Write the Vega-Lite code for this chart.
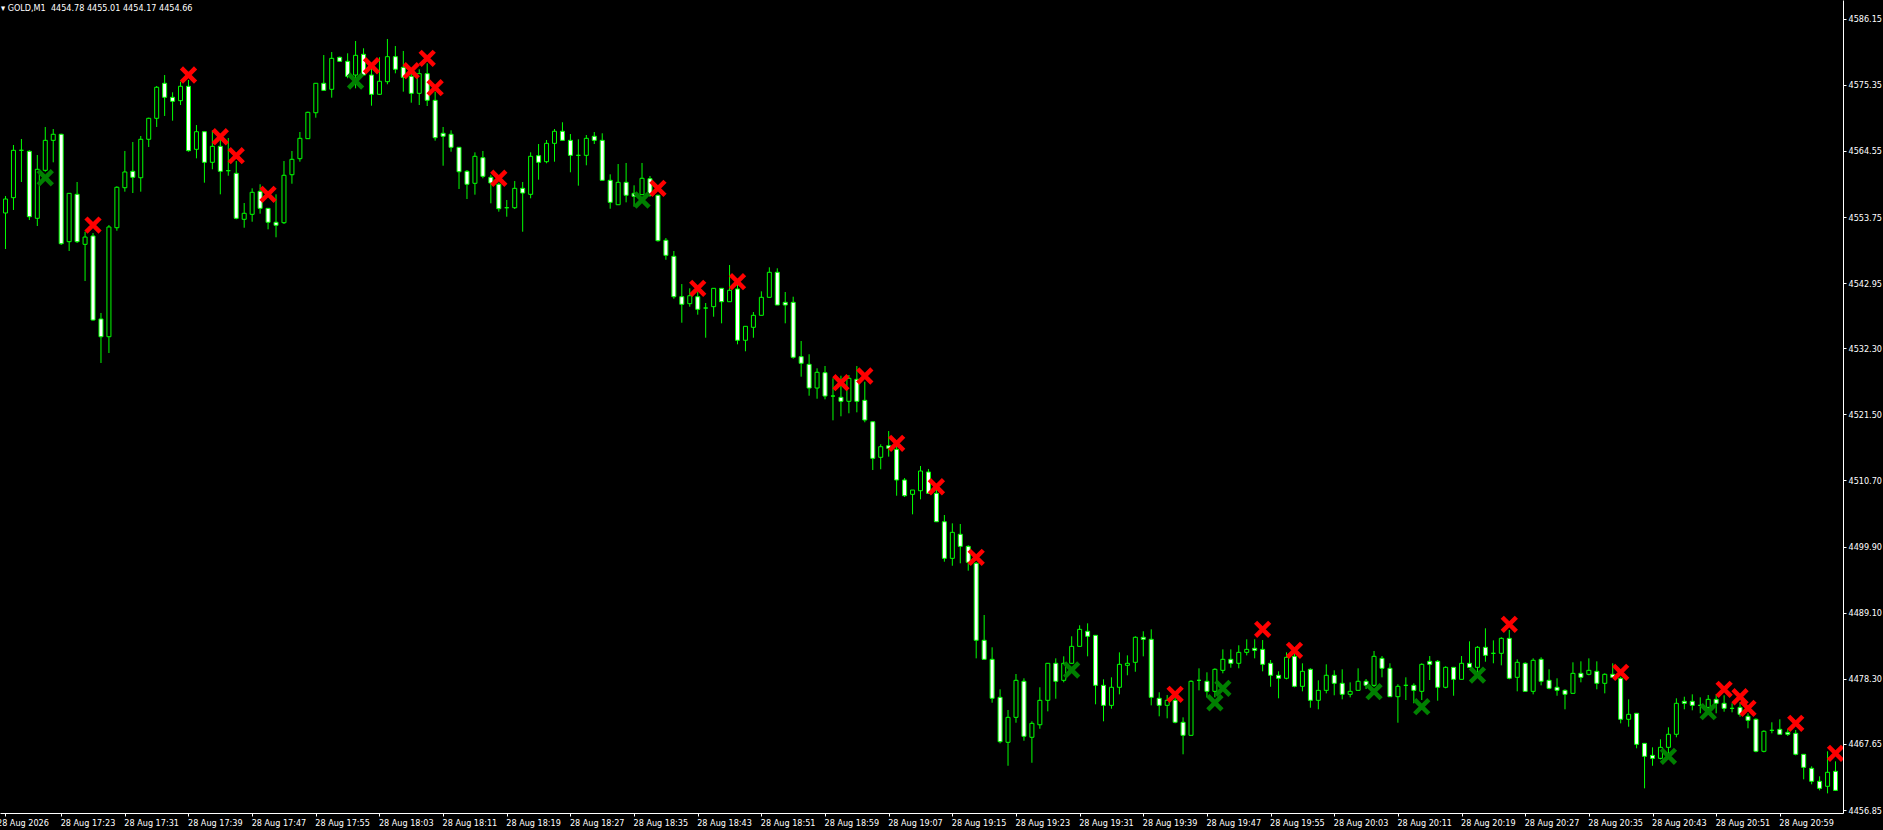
{
"$schema":"https://vega.github.io/schema/vega-lite/v6.json",
"autosize":{"type":"none"},
"width":1843,"height":813,
"padding":{"left":0,"top":0,"right":40,"bottom":17},
"background":"#000000",
"title":{"text":"\u25be GOLD,M1\u00a0 4454.78 4455.01 4454.17 4454.66","anchor":"start","frame":"group","offset":0,"baseline":"alphabetic","dy":20,"dx":1,"font":"DejaVu Sans Condensed, Liberation Sans","fontSize":9,"fontWeight":"normal","color":"#FFFFFF"},
"config":{"view":{"stroke":null,"fill":"#000000"},"axis":{"grid":false}},
"datasets":{
"candles":[
{"t":"2026-08-28T17:16","o":4554.41,"h":4557.18,"l":4548.52,"c":4556.69},
{"t":"2026-08-28T17:17","o":4556.91,"h":4565.52,"l":4554.90,"c":4564.65},
{"t":"2026-08-28T17:18","o":4564.65,"h":4566.50,"l":4559.47,"c":4564.65},
{"t":"2026-08-28T17:19","o":4564.49,"h":4564.65,"l":4553.26,"c":4553.80},
{"t":"2026-08-28T17:20","o":4553.54,"h":4563.88,"l":4552.28,"c":4561.55},
{"t":"2026-08-28T17:21","o":4561.38,"h":4568.46,"l":4561.15,"c":4566.28},
{"t":"2026-08-28T17:22","o":4566.28,"h":4568.13,"l":4562.69,"c":4567.27},
{"t":"2026-08-28T17:23","o":4567.27,"h":4567.36,"l":4549.18,"c":4549.39},
{"t":"2026-08-28T17:24","o":4549.72,"h":4557.67,"l":4548.20,"c":4557.62},
{"t":"2026-08-28T17:25","o":4557.46,"h":4559.47,"l":4549.50,"c":4549.72},
{"t":"2026-08-28T17:26","o":4549.29,"h":4551.35,"l":4543.29,"c":4550.48},
{"t":"2026-08-28T17:27","o":4550.65,"h":4551.14,"l":4536.81,"c":4536.92},
{"t":"2026-08-28T17:28","o":4537.09,"h":4538.07,"l":4529.90,"c":4534.19},
{"t":"2026-08-28T17:29","o":4534.19,"h":4552.44,"l":4531.53,"c":4552.12},
{"t":"2026-08-28T17:30","o":4552.00,"h":4558.77,"l":4551.51,"c":4558.61},
{"t":"2026-08-28T17:31","o":4558.54,"h":4564.54,"l":4557.89,"c":4561.11},
{"t":"2026-08-28T17:32","o":4561.22,"h":4566.01,"l":4557.67,"c":4560.24},
{"t":"2026-08-28T17:33","o":4560.17,"h":4566.99,"l":4557.89,"c":4566.45},
{"t":"2026-08-28T17:34","o":4566.45,"h":4569.98,"l":4565.19,"c":4569.88},
{"t":"2026-08-28T17:35","o":4569.88,"h":4575.16,"l":4568.46,"c":4574.95},
{"t":"2026-08-28T17:36","o":4575.60,"h":4576.95,"l":4570.26,"c":4573.31},
{"t":"2026-08-28T17:37","o":4573.31,"h":4574.13,"l":4569.49,"c":4572.66},
{"t":"2026-08-28T17:38","o":4572.76,"h":4575.86,"l":4572.05,"c":4575.11},
{"t":"2026-08-28T17:39","o":4575.11,"h":4576.14,"l":4564.42,"c":4564.59},
{"t":"2026-08-28T17:40","o":4564.81,"h":4568.78,"l":4563.34,"c":4567.69},
{"t":"2026-08-28T17:41","o":4567.69,"h":4567.69,"l":4559.36,"c":4562.69},
{"t":"2026-08-28T17:42","o":4562.69,"h":4567.92,"l":4561.55,"c":4565.30},
{"t":"2026-08-28T17:43","o":4565.30,"h":4566.61,"l":4557.46,"c":4561.22},
{"t":"2026-08-28T17:44","o":4561.32,"h":4566.66,"l":4560.50,"c":4561.32},
{"t":"2026-08-28T17:45","o":4560.89,"h":4562.90,"l":4553.38,"c":4553.54},
{"t":"2026-08-28T17:46","o":4553.38,"h":4556.04,"l":4552.00,"c":4554.36},
{"t":"2026-08-28T17:47","o":4554.19,"h":4558.44,"l":4552.98,"c":4557.79},
{"t":"2026-08-28T17:48","o":4557.95,"h":4559.10,"l":4554.29,"c":4555.17},
{"t":"2026-08-28T17:49","o":4555.17,"h":4555.17,"l":4551.74,"c":4552.89},
{"t":"2026-08-28T17:50","o":4552.89,"h":4557.46,"l":4550.44,"c":4552.40},
{"t":"2026-08-28T17:51","o":4552.82,"h":4562.90,"l":4552.61,"c":4560.57},
{"t":"2026-08-28T17:52","o":4560.66,"h":4564.54,"l":4559.19,"c":4563.18},
{"t":"2026-08-28T17:53","o":4563.28,"h":4567.64,"l":4562.79,"c":4566.61},
{"t":"2026-08-28T17:54","o":4566.55,"h":4570.96,"l":4566.55,"c":4570.86},
{"t":"2026-08-28T17:55","o":4570.79,"h":4575.60,"l":4569.98,"c":4575.60},
{"t":"2026-08-28T17:56","o":4575.60,"h":4580.22,"l":4574.45,"c":4574.45},
{"t":"2026-08-28T17:57","o":4574.62,"h":4580.71,"l":4573.25,"c":4579.68},
{"t":"2026-08-28T17:58","o":4579.85,"h":4579.95,"l":4579.13,"c":4579.19},
{"t":"2026-08-28T17:59","o":4579.19,"h":4580.50,"l":4576.42,"c":4576.74},
{"t":"2026-08-28T18:00","o":4576.95,"h":4582.51,"l":4574.78,"c":4580.17},
{"t":"2026-08-28T18:01","o":4580.34,"h":4581.32,"l":4576.95,"c":4576.95},
{"t":"2026-08-28T18:02","o":4576.95,"h":4578.05,"l":4571.94,"c":4573.80},
{"t":"2026-08-28T18:03","o":4573.80,"h":4579.85,"l":4573.69,"c":4575.93},
{"t":"2026-08-28T18:04","o":4575.86,"h":4582.84,"l":4575.44,"c":4579.95},
{"t":"2026-08-28T18:05","o":4579.95,"h":4581.69,"l":4577.23,"c":4577.89},
{"t":"2026-08-28T18:06","o":4578.21,"h":4580.88,"l":4574.23,"c":4576.58},
{"t":"2026-08-28T18:07","o":4576.74,"h":4577.77,"l":4572.43,"c":4573.96},
{"t":"2026-08-28T18:08","o":4573.96,"h":4577.89,"l":4572.05,"c":4577.17},
{"t":"2026-08-28T18:09","o":4577.17,"h":4578.87,"l":4571.89,"c":4572.82},
{"t":"2026-08-28T18:10","o":4572.82,"h":4574.23,"l":4566.22,"c":4566.71},
{"t":"2026-08-28T18:11","o":4567.43,"h":4568.46,"l":4562.13,"c":4566.94},
{"t":"2026-08-28T18:12","o":4567.27,"h":4567.92,"l":4564.42,"c":4565.14},
{"t":"2026-08-28T18:13","o":4565.14,"h":4565.14,"l":4558.33,"c":4561.15},
{"t":"2026-08-28T18:14","o":4561.22,"h":4561.43,"l":4556.69,"c":4559.10},
{"t":"2026-08-28T18:15","o":4559.26,"h":4564.32,"l":4557.40,"c":4563.67},
{"t":"2026-08-28T18:16","o":4563.44,"h":4564.54,"l":4560.08,"c":4560.40},
{"t":"2026-08-28T18:17","o":4560.24,"h":4560.66,"l":4555.99,"c":4559.31},
{"t":"2026-08-28T18:18","o":4559.10,"h":4559.36,"l":4554.62,"c":4555.11},
{"t":"2026-08-28T18:19","o":4555.27,"h":4556.53,"l":4553.80,"c":4555.27},
{"t":"2026-08-28T18:20","o":4555.27,"h":4559.63,"l":4555.06,"c":4558.44},
{"t":"2026-08-28T18:21","o":4558.44,"h":4559.47,"l":4551.35,"c":4557.67},
{"t":"2026-08-28T18:22","o":4557.46,"h":4564.32,"l":4556.81,"c":4563.67},
{"t":"2026-08-28T18:23","o":4563.77,"h":4565.68,"l":4559.85,"c":4562.69},
{"t":"2026-08-28T18:24","o":4562.79,"h":4566.33,"l":4562.53,"c":4565.79},
{"t":"2026-08-28T18:25","o":4565.79,"h":4568.13,"l":4562.79,"c":4567.76},
{"t":"2026-08-28T18:26","o":4567.76,"h":4569.23,"l":4566.28,"c":4566.28},
{"t":"2026-08-28T18:27","o":4566.28,"h":4567.31,"l":4561.06,"c":4563.83},
{"t":"2026-08-28T18:28","o":4563.83,"h":4566.45,"l":4558.87,"c":4563.83},
{"t":"2026-08-28T18:29","o":4563.83,"h":4567.15,"l":4562.20,"c":4566.61},
{"t":"2026-08-28T18:30","o":4566.94,"h":4567.64,"l":4565.68,"c":4566.28},
{"t":"2026-08-28T18:31","o":4566.28,"h":4567.43,"l":4559.75,"c":4559.75},
{"t":"2026-08-28T18:32","o":4559.75,"h":4560.73,"l":4555.11,"c":4556.15},
{"t":"2026-08-28T18:33","o":4555.76,"h":4562.41,"l":4555.76,"c":4559.42},
{"t":"2026-08-28T18:34","o":4559.42,"h":4562.58,"l":4556.15,"c":4557.30},
{"t":"2026-08-28T18:35","o":4557.62,"h":4558.93,"l":4555.44,"c":4557.13},
{"t":"2026-08-28T18:36","o":4557.40,"h":4562.58,"l":4557.40,"c":4560.08},
{"t":"2026-08-28T18:37","o":4560.01,"h":4560.45,"l":4557.07,"c":4557.30},
{"t":"2026-08-28T18:38","o":4557.30,"h":4557.40,"l":4549.72,"c":4549.88},
{"t":"2026-08-28T18:39","o":4549.95,"h":4550.32,"l":4546.77,"c":4547.49},
{"t":"2026-08-28T18:40","o":4547.33,"h":4548.20,"l":4540.40,"c":4540.73},
{"t":"2026-08-28T18:41","o":4540.73,"h":4542.80,"l":4536.48,"c":4539.49},
{"t":"2026-08-28T18:42","o":4539.59,"h":4542.10,"l":4539.10,"c":4540.89},
{"t":"2026-08-28T18:43","o":4540.73,"h":4541.55,"l":4537.79,"c":4538.67},
{"t":"2026-08-28T18:44","o":4538.88,"h":4539.70,"l":4534.03,"c":4538.88},
{"t":"2026-08-28T18:45","o":4539.10,"h":4542.10,"l":4537.46,"c":4542.10},
{"t":"2026-08-28T18:46","o":4542.10,"h":4542.10,"l":4536.38,"c":4539.91},
{"t":"2026-08-28T18:47","o":4539.91,"h":4545.91,"l":4539.91,"c":4541.78},
{"t":"2026-08-28T18:48","o":4541.99,"h":4543.46,"l":4532.95,"c":4533.61},
{"t":"2026-08-28T18:49","o":4533.61,"h":4535.89,"l":4531.81,"c":4535.89},
{"t":"2026-08-28T18:50","o":4535.73,"h":4538.23,"l":4534.03,"c":4537.69},
{"t":"2026-08-28T18:51","o":4537.69,"h":4541.61,"l":4537.69,"c":4540.63},
{"t":"2026-08-28T18:52","o":4540.63,"h":4545.53,"l":4540.63,"c":4544.72},
{"t":"2026-08-28T18:53","o":4544.72,"h":4545.37,"l":4539.37,"c":4539.37},
{"t":"2026-08-28T18:54","o":4539.81,"h":4541.50,"l":4536.38,"c":4539.37},
{"t":"2026-08-28T18:55","o":4539.81,"h":4540.73,"l":4530.60,"c":4530.83},
{"t":"2026-08-28T18:56","o":4530.93,"h":4533.49,"l":4527.66,"c":4529.85},
{"t":"2026-08-28T18:57","o":4529.68,"h":4531.32,"l":4524.55,"c":4525.81},
{"t":"2026-08-28T18:58","o":4525.81,"h":4529.03,"l":4524.06,"c":4528.38},
{"t":"2026-08-28T18:59","o":4528.31,"h":4529.41,"l":4523.96,"c":4524.50},
{"t":"2026-08-28T19:00","o":4524.50,"h":4527.40,"l":4520.53,"c":4524.50},
{"t":"2026-08-28T19:01","o":4524.29,"h":4527.82,"l":4521.19,"c":4523.64},
{"t":"2026-08-28T19:02","o":4523.64,"h":4527.93,"l":4521.68,"c":4527.40},
{"t":"2026-08-28T19:03","o":4527.23,"h":4529.41,"l":4521.84,"c":4523.64},
{"t":"2026-08-28T19:04","o":4523.80,"h":4526.84,"l":4520.21,"c":4520.58},
{"t":"2026-08-28T19:05","o":4520.30,"h":4520.30,"l":4512.41,"c":4514.32},
{"t":"2026-08-28T19:06","o":4514.49,"h":4516.61,"l":4512.53,"c":4516.22},
{"t":"2026-08-28T19:07","o":4516.38,"h":4518.78,"l":4514.59,"c":4515.96},
{"t":"2026-08-28T19:08","o":4515.79,"h":4516.77,"l":4508.21,"c":4510.78},
{"t":"2026-08-28T19:09","o":4510.78,"h":4511.10,"l":4508.00,"c":4508.21},
{"t":"2026-08-28T19:10","o":4508.44,"h":4509.14,"l":4505.17,"c":4509.14},
{"t":"2026-08-28T19:11","o":4509.03,"h":4513.07,"l":4507.62,"c":4512.25},
{"t":"2026-08-28T19:12","o":4512.09,"h":4512.58,"l":4508.49,"c":4508.61},
{"t":"2026-08-28T19:13","o":4508.61,"h":4509.31,"l":4503.92,"c":4503.96},
{"t":"2026-08-28T19:14","o":4503.96,"h":4505.06,"l":4497.43,"c":4497.98},
{"t":"2026-08-28T19:15","o":4497.98,"h":4503.70,"l":4496.77,"c":4502.23},
{"t":"2026-08-28T19:16","o":4501.91,"h":4503.59,"l":4497.17,"c":4499.94},
{"t":"2026-08-28T19:17","o":4499.94,"h":4500.11,"l":4495.96,"c":4497.33},
{"t":"2026-08-28T19:18","o":4497.17,"h":4497.38,"l":4481.64,"c":4484.59},
{"t":"2026-08-28T19:19","o":4484.59,"h":4488.72,"l":4481.48,"c":4481.48},
{"t":"2026-08-28T19:20","o":4481.48,"h":4483.44,"l":4474.39,"c":4475.11},
{"t":"2026-08-28T19:21","o":4475.27,"h":4476.58,"l":4467.75,"c":4468.02},
{"t":"2026-08-28T19:22","o":4467.92,"h":4473.20,"l":4464.09,"c":4472.00},
{"t":"2026-08-28T19:23","o":4472.00,"h":4479.08,"l":4471.12,"c":4478.05},
{"t":"2026-08-28T19:24","o":4477.89,"h":4478.38,"l":4468.18,"c":4468.90},
{"t":"2026-08-28T19:25","o":4468.74,"h":4471.35,"l":4464.58,"c":4471.02},
{"t":"2026-08-28T19:26","o":4470.79,"h":4476.91,"l":4470.14,"c":4474.78},
{"t":"2026-08-28T19:27","o":4474.78,"h":4480.83,"l":4472.98,"c":4480.83},
{"t":"2026-08-28T19:28","o":4480.83,"h":4481.64,"l":4475.04,"c":4477.89},
{"t":"2026-08-28T19:29","o":4478.05,"h":4481.97,"l":4477.72,"c":4480.83},
{"t":"2026-08-28T19:30","o":4480.83,"h":4485.24,"l":4480.83,"c":4483.60},
{"t":"2026-08-28T19:31","o":4483.60,"h":4487.04,"l":4483.60,"c":4486.38},
{"t":"2026-08-28T19:32","o":4486.06,"h":4487.36,"l":4481.97,"c":4485.24},
{"t":"2026-08-28T19:33","o":4485.40,"h":4485.40,"l":4474.13,"c":4477.23},
{"t":"2026-08-28T19:34","o":4477.23,"h":4478.21,"l":4471.35,"c":4473.96},
{"t":"2026-08-28T19:35","o":4473.96,"h":4478.54,"l":4473.41,"c":4476.91},
{"t":"2026-08-28T19:36","o":4476.91,"h":4482.62,"l":4475.76,"c":4480.66},
{"t":"2026-08-28T19:37","o":4480.50,"h":4482.13,"l":4478.87,"c":4480.83},
{"t":"2026-08-28T19:38","o":4480.99,"h":4485.24,"l":4479.45,"c":4485.08},
{"t":"2026-08-28T19:39","o":4485.08,"h":4486.06,"l":4481.97,"c":4484.75},
{"t":"2026-08-28T19:40","o":4484.75,"h":4486.38,"l":4473.96,"c":4475.27},
{"t":"2026-08-28T19:41","o":4475.11,"h":4476.09,"l":4472.17,"c":4473.96},
{"t":"2026-08-28T19:42","o":4473.96,"h":4475.65,"l":4471.84,"c":4474.78},
{"t":"2026-08-28T19:43","o":4474.78,"h":4475.37,"l":4471.02,"c":4471.19},
{"t":"2026-08-28T19:44","o":4471.19,"h":4472.00,"l":4465.96,"c":4469.06},
{"t":"2026-08-28T19:45","o":4469.06,"h":4478.05,"l":4469.06,"c":4477.89},
{"t":"2026-08-28T19:46","o":4478.05,"h":4480.01,"l":4476.41,"c":4478.05},
{"t":"2026-08-28T19:47","o":4477.89,"h":4479.36,"l":4475.27,"c":4476.25},
{"t":"2026-08-28T19:48","o":4476.25,"h":4480.01,"l":4475.27,"c":4479.85},
{"t":"2026-08-28T19:49","o":4479.68,"h":4483.11,"l":4479.19,"c":4481.48},
{"t":"2026-08-28T19:50","o":4481.48,"h":4483.11,"l":4480.11,"c":4480.83},
{"t":"2026-08-28T19:51","o":4480.83,"h":4483.77,"l":4480.01,"c":4482.62},
{"t":"2026-08-28T19:52","o":4482.62,"h":4484.75,"l":4482.13,"c":4483.11},
{"t":"2026-08-28T19:53","o":4483.28,"h":4484.75,"l":4481.64,"c":4482.95},
{"t":"2026-08-28T19:54","o":4483.11,"h":4484.63,"l":4479.52,"c":4480.66},
{"t":"2026-08-28T19:55","o":4480.83,"h":4481.37,"l":4477.00,"c":4478.87},
{"t":"2026-08-28T19:56","o":4478.87,"h":4479.52,"l":4475.11,"c":4478.38},
{"t":"2026-08-28T19:57","o":4478.38,"h":4482.62,"l":4478.21,"c":4481.81},
{"t":"2026-08-28T19:58","o":4481.97,"h":4482.46,"l":4476.91,"c":4477.07},
{"t":"2026-08-28T19:59","o":4477.07,"h":4480.83,"l":4476.25,"c":4479.52},
{"t":"2026-08-28T20:00","o":4479.85,"h":4480.01,"l":4473.57,"c":4474.78},
{"t":"2026-08-28T20:01","o":4474.78,"h":4478.05,"l":4473.31,"c":4476.41},
{"t":"2026-08-28T20:02","o":4476.41,"h":4480.66,"l":4475.92,"c":4478.87},
{"t":"2026-08-28T20:03","o":4478.87,"h":4479.68,"l":4475.60,"c":4477.56},
{"t":"2026-08-28T20:04","o":4477.56,"h":4479.85,"l":4474.94,"c":4475.76},
{"t":"2026-08-28T20:05","o":4475.76,"h":4477.72,"l":4475.27,"c":4476.25},
{"t":"2026-08-28T20:06","o":4476.41,"h":4480.01,"l":4476.41,"c":4477.89},
{"t":"2026-08-28T20:07","o":4477.89,"h":4478.26,"l":4476.63,"c":4477.23},
{"t":"2026-08-28T20:08","o":4477.23,"h":4482.84,"l":4476.96,"c":4481.97},
{"t":"2026-08-28T20:09","o":4481.64,"h":4482.02,"l":4478.54,"c":4480.01},
{"t":"2026-08-28T20:10","o":4480.01,"h":4480.83,"l":4475.37,"c":4475.37},
{"t":"2026-08-28T20:11","o":4475.37,"h":4477.40,"l":4471.12,"c":4477.07},
{"t":"2026-08-28T20:12","o":4477.23,"h":4478.54,"l":4474.83,"c":4477.23},
{"t":"2026-08-28T20:13","o":4477.23,"h":4477.56,"l":4474.29,"c":4476.41},
{"t":"2026-08-28T20:14","o":4476.25,"h":4480.83,"l":4474.83,"c":4480.66},
{"t":"2026-08-28T20:15","o":4481.15,"h":4482.02,"l":4478.10,"c":4480.66},
{"t":"2026-08-28T20:16","o":4481.15,"h":4481.37,"l":4474.72,"c":4476.91},
{"t":"2026-08-28T20:17","o":4476.91,"h":4480.34,"l":4476.74,"c":4480.17},
{"t":"2026-08-28T20:18","o":4480.17,"h":4480.17,"l":4475.53,"c":4478.21},
{"t":"2026-08-28T20:19","o":4478.21,"h":4482.02,"l":4478.21,"c":4480.83},
{"t":"2026-08-28T20:20","o":4480.83,"h":4484.42,"l":4480.17,"c":4480.17},
{"t":"2026-08-28T20:21","o":4480.17,"h":4483.65,"l":4478.64,"c":4483.44},
{"t":"2026-08-28T20:22","o":4483.44,"h":4486.55,"l":4481.09,"c":4482.13},
{"t":"2026-08-28T20:23","o":4482.46,"h":4484.58,"l":4480.83,"c":4482.46},
{"t":"2026-08-28T20:24","o":4482.46,"h":4485.08,"l":4480.50,"c":4484.91},
{"t":"2026-08-28T20:25","o":4484.91,"h":4486.27,"l":4478.21,"c":4478.38},
{"t":"2026-08-28T20:26","o":4478.54,"h":4481.48,"l":4476.25,"c":4480.99},
{"t":"2026-08-28T20:27","o":4480.83,"h":4480.99,"l":4476.25,"c":4476.25},
{"t":"2026-08-28T20:28","o":4476.25,"h":4481.64,"l":4475.76,"c":4481.32},
{"t":"2026-08-28T20:29","o":4481.48,"h":4481.81,"l":4477.23,"c":4477.89},
{"t":"2026-08-28T20:30","o":4478.05,"h":4479.85,"l":4476.58,"c":4476.74},
{"t":"2026-08-28T20:31","o":4476.91,"h":4478.38,"l":4475.53,"c":4476.41},
{"t":"2026-08-28T20:32","o":4476.41,"h":4476.58,"l":4473.31,"c":4475.76},
{"t":"2026-08-28T20:33","o":4475.92,"h":4480.99,"l":4475.92,"c":4479.19},
{"t":"2026-08-28T20:34","o":4479.19,"h":4481.15,"l":4477.72,"c":4478.54},
{"t":"2026-08-28T20:35","o":4479.03,"h":4481.64,"l":4478.87,"c":4479.68},
{"t":"2026-08-28T20:36","o":4479.52,"h":4481.15,"l":4476.58,"c":4477.56},
{"t":"2026-08-28T20:37","o":4477.56,"h":4479.19,"l":4475.92,"c":4479.03},
{"t":"2026-08-28T20:38","o":4479.03,"h":4480.83,"l":4478.54,"c":4478.54},
{"t":"2026-08-28T20:39","o":4478.38,"h":4478.64,"l":4471.02,"c":4471.68},
{"t":"2026-08-28T20:40","o":4471.68,"h":4474.94,"l":4470.47,"c":4472.49},
{"t":"2026-08-28T20:41","o":4472.66,"h":4472.66,"l":4466.94,"c":4467.59},
{"t":"2026-08-28T20:42","o":4467.75,"h":4467.75,"l":4460.40,"c":4465.63},
{"t":"2026-08-28T20:43","o":4465.79,"h":4467.10,"l":4464.09,"c":4465.30},
{"t":"2026-08-28T20:44","o":4465.30,"h":4468.41,"l":4465.14,"c":4467.10},
{"t":"2026-08-28T20:45","o":4467.10,"h":4470.37,"l":4465.68,"c":4469.23},
{"t":"2026-08-28T20:46","o":4469.23,"h":4475.11,"l":4468.74,"c":4474.29},
{"t":"2026-08-28T20:47","o":4474.62,"h":4475.37,"l":4473.31,"c":4474.29},
{"t":"2026-08-28T20:48","o":4474.62,"h":4475.76,"l":4473.15,"c":4473.96},
{"t":"2026-08-28T20:49","o":4473.96,"h":4475.27,"l":4472.66,"c":4473.96},
{"t":"2026-08-28T20:50","o":4473.63,"h":4475.65,"l":4472.87,"c":4474.94},
{"t":"2026-08-28T20:51","o":4474.94,"h":4475.76,"l":4472.66,"c":4474.29},
{"t":"2026-08-28T20:52","o":4474.29,"h":4475.60,"l":4472.92,"c":4473.47},
{"t":"2026-08-28T20:53","o":4473.47,"h":4474.29,"l":4472.82,"c":4473.47},
{"t":"2026-08-28T20:54","o":4473.63,"h":4474.45,"l":4472.10,"c":4472.49},
{"t":"2026-08-28T20:55","o":4472.17,"h":4472.66,"l":4470.21,"c":4471.51},
{"t":"2026-08-28T20:56","o":4471.68,"h":4471.84,"l":4466.28,"c":4466.45},
{"t":"2026-08-28T20:57","o":4466.45,"h":4469.88,"l":4466.28,"c":4469.72},
{"t":"2026-08-28T20:58","o":4469.88,"h":4471.19,"l":4469.39,"c":4469.88},
{"t":"2026-08-28T20:59","o":4470.04,"h":4471.68,"l":4469.23,"c":4469.23},
{"t":"2026-08-28T21:00","o":4469.55,"h":4470.09,"l":4468.95,"c":4469.23},
{"t":"2026-08-28T21:01","o":4469.39,"h":4469.93,"l":4465.79,"c":4465.96},
{"t":"2026-08-28T21:02","o":4465.96,"h":4465.96,"l":4461.87,"c":4463.83},
{"t":"2026-08-28T21:03","o":4463.67,"h":4464.00,"l":4461.06,"c":4461.55},
{"t":"2026-08-28T21:04","o":4461.55,"h":4462.36,"l":4460.07,"c":4460.40},
{"t":"2026-08-28T21:05","o":4460.73,"h":4466.45,"l":4459.58,"c":4463.02},
{"t":"2026-08-28T21:06","o":4463.18,"h":4464.81,"l":4459.96,"c":4460.07}
],
"signals":[
{"t":"2026-08-28T17:21","p":4560.17,"side":"buy"},
{"t":"2026-08-28T18:00","p":4575.97,"side":"buy"},
{"t":"2026-08-28T18:36","p":4556.53,"side":"buy"},
{"t":"2026-08-28T19:30","p":4479.73,"side":"buy"},
{"t":"2026-08-28T19:48","p":4474.39,"side":"buy"},
{"t":"2026-08-28T19:49","p":4476.74,"side":"buy"},
{"t":"2026-08-28T20:08","p":4476.19,"side":"buy"},
{"t":"2026-08-28T20:14","p":4473.74,"side":"buy"},
{"t":"2026-08-28T20:21","p":4478.91,"side":"buy"},
{"t":"2026-08-28T20:45","p":4465.63,"side":"buy"},
{"t":"2026-08-28T20:50","p":4472.92,"side":"buy"},
{"t":"2026-08-28T17:27","p":4552.44,"side":"sell"},
{"t":"2026-08-28T17:39","p":4576.95,"side":"sell"},
{"t":"2026-08-28T17:43","p":4566.87,"side":"sell"},
{"t":"2026-08-28T17:45","p":4563.77,"side":"sell"},
{"t":"2026-08-28T17:49","p":4557.46,"side":"sell"},
{"t":"2026-08-28T18:02","p":4578.47,"side":"sell"},
{"t":"2026-08-28T18:07","p":4577.66,"side":"sell"},
{"t":"2026-08-28T18:09","p":4579.68,"side":"sell"},
{"t":"2026-08-28T18:10","p":4574.88,"side":"sell"},
{"t":"2026-08-28T18:18","p":4560.08,"side":"sell"},
{"t":"2026-08-28T18:38","p":4558.44,"side":"sell"},
{"t":"2026-08-28T18:43","p":4542.10,"side":"sell"},
{"t":"2026-08-28T18:48","p":4543.18,"side":"sell"},
{"t":"2026-08-28T19:01","p":4526.68,"side":"sell"},
{"t":"2026-08-28T19:04","p":4527.77,"side":"sell"},
{"t":"2026-08-28T19:08","p":4516.77,"side":"sell"},
{"t":"2026-08-28T19:13","p":4509.68,"side":"sell"},
{"t":"2026-08-28T19:18","p":4498.15,"side":"sell"},
{"t":"2026-08-28T19:43","p":4475.76,"side":"sell"},
{"t":"2026-08-28T19:54","p":4486.38,"side":"sell"},
{"t":"2026-08-28T19:58","p":4482.95,"side":"sell"},
{"t":"2026-08-28T20:25","p":4487.20,"side":"sell"},
{"t":"2026-08-28T20:39","p":4479.36,"side":"sell"},
{"t":"2026-08-28T20:52","p":4476.58,"side":"sell"},
{"t":"2026-08-28T20:54","p":4475.37,"side":"sell"},
{"t":"2026-08-28T20:55","p":4473.47,"side":"sell"},
{"t":"2026-08-28T21:01","p":4471.02,"side":"sell"},
{"t":"2026-08-28T21:06","p":4466.12,"side":"sell"}
]
},
"data":{"name":"candles"},
"encoding":{
"x":{"field":"t","type":"temporal","title":null,
"scale":{"domain":[{"year":2026,"month":8,"date":28,"hours":17,"minutes":15,"seconds":56,"milliseconds":250},{"year":2026,"month":8,"date":28,"hours":21,"minutes":6,"seconds":18,"milliseconds":750}],"nice":false},
"axis":{"values":[
{"year":2026,"month":8,"date":28,"hours":17,"minutes":16},
{"year":2026,"month":8,"date":28,"hours":17,"minutes":23},
{"year":2026,"month":8,"date":28,"hours":17,"minutes":31},
{"year":2026,"month":8,"date":28,"hours":17,"minutes":39},
{"year":2026,"month":8,"date":28,"hours":17,"minutes":47},
{"year":2026,"month":8,"date":28,"hours":17,"minutes":55},
{"year":2026,"month":8,"date":28,"hours":18,"minutes":3},
{"year":2026,"month":8,"date":28,"hours":18,"minutes":11},
{"year":2026,"month":8,"date":28,"hours":18,"minutes":19},
{"year":2026,"month":8,"date":28,"hours":18,"minutes":27},
{"year":2026,"month":8,"date":28,"hours":18,"minutes":35},
{"year":2026,"month":8,"date":28,"hours":18,"minutes":43},
{"year":2026,"month":8,"date":28,"hours":18,"minutes":51},
{"year":2026,"month":8,"date":28,"hours":18,"minutes":59},
{"year":2026,"month":8,"date":28,"hours":19,"minutes":7},
{"year":2026,"month":8,"date":28,"hours":19,"minutes":15},
{"year":2026,"month":8,"date":28,"hours":19,"minutes":23},
{"year":2026,"month":8,"date":28,"hours":19,"minutes":31},
{"year":2026,"month":8,"date":28,"hours":19,"minutes":39},
{"year":2026,"month":8,"date":28,"hours":19,"minutes":47},
{"year":2026,"month":8,"date":28,"hours":19,"minutes":55},
{"year":2026,"month":8,"date":28,"hours":20,"minutes":3},
{"year":2026,"month":8,"date":28,"hours":20,"minutes":11},
{"year":2026,"month":8,"date":28,"hours":20,"minutes":19},
{"year":2026,"month":8,"date":28,"hours":20,"minutes":27},
{"year":2026,"month":8,"date":28,"hours":20,"minutes":35},
{"year":2026,"month":8,"date":28,"hours":20,"minutes":43},
{"year":2026,"month":8,"date":28,"hours":20,"minutes":51},
{"year":2026,"month":8,"date":28,"hours":20,"minutes":59}],
"labelExpr":"hours(datum.value)==17 && minutes(datum.value)==16 ? '28 Aug 2026' : timeFormat(datum.value, '%d %b %H:%M')",
"labelOffset":{"condition":{"test":"hours(datum.value)==17 && minutes(datum.value)==16","value":-9},"value":-1},
"tickSize":3,"tickColor":"#FFFFFF","domainColor":"#FFFFFF","labelColor":"#FFFFFF",
"labelFont":"DejaVu Sans Condensed, Liberation Sans","labelFontSize":9,"labelAlign":"left","labelBaseline":"top","labelPadding":2,
"labelOverlap":false,"labelBound":false,"labelFlush":false,"grid":false}}
},
"layer":[
{"mark":{"type":"rule","color":"#00FF00","strokeWidth":1,"clip":true},
"encoding":{
"y":{"field":"l","type":"quantitative","title":null,"scale":{"domain":[4456.37,4589.21],"nice":false,"zero":false},
"axis":{"orient":"right","values":[4586.15,4580.75,4575.35,4569.95,4564.55,4559.15,4553.75,4548.35,4542.95,4537.70,4532.30,4526.90,4521.50,4516.10,4510.70,4505.30,4499.90,4494.50,4489.10,4483.70,4478.30,4472.90,4467.65,4462.25,4456.85],
"format":".2f","tickSize":3,"tickColor":"#FFFFFF","domainColor":"#FFFFFF","labelColor":"#FFFFFF","labelFont":"DejaVu Sans Condensed, Liberation Sans","labelFontSize":9,"labelPadding":2,"labelOverlap":false,"labelBound":false,"labelFlush":false,"grid":false,"title":null}},
"y2":{"field":"h"}}},
{"transform":[{"filter":"datum.c >= datum.o"}],
"mark":{"type":"bar","size":4,"fill":"#000000","stroke":"#00FF00","strokeWidth":1,"clip":true},
"encoding":{
"y":{"field":"o","type":"quantitative","title":null,"scale":{"domain":[4456.37,4589.21],"nice":false,"zero":false}},
"y2":{"field":"c"}}},
{"transform":[{"filter":"datum.c < datum.o"}],
"mark":{"type":"bar","size":4,"fill":"#FFFFFF","stroke":"#00FF00","strokeWidth":1,"clip":true},
"encoding":{
"y":{"field":"o","type":"quantitative","title":null,"scale":{"domain":[4456.37,4589.21],"nice":false,"zero":false}},
"y2":{"field":"c"}}},
{"data":{"name":"signals"},
"mark":{"type":"point","shape":"M-1,-1L1,1M-1,1L1,-1","filled":false,"strokeWidth":4.5,"size":200,"opacity":1,"clip":true},
"encoding":{
"y":{"field":"p","type":"quantitative","title":null,"scale":{"domain":[4456.37,4589.21],"nice":false,"zero":false}},
"color":{"field":"side","type":"nominal","scale":{"domain":["sell","buy"],"range":["#FF0000","#008000"]},"legend":null}}}
]
}
